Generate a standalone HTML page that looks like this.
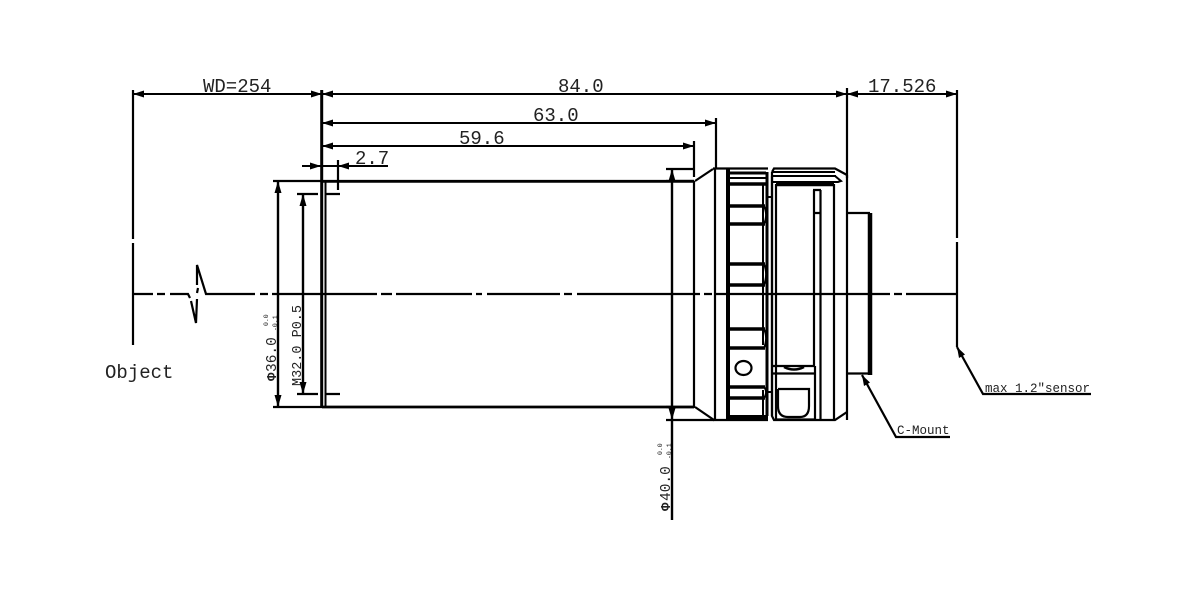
<!DOCTYPE html>
<html><head><meta charset="utf-8"><style>html,body{margin:0;padding:0;background:#fff}svg{display:block}text{font-family:"Liberation Mono","Noto Serif CJK SC",monospace;fill:#222}</style></head><body>
<svg width="1200" height="600" viewBox="0 0 1200 600" xmlns="http://www.w3.org/2000/svg">
<rect width="1200" height="600" fill="#fff"/>
<g stroke="#000" stroke-width="2.200" fill="none">
<!-- extension lines -->
<path d="M133 90V239M133 243V345M957 90V238M957 242V347"/>
<path d="M847 88V178"/>
<path d="M321.700 90V407" stroke-width="3"/>
<path d="M716 118V168M694 141V177M338 160V190"/>
<!-- dimensions -->
<path d="M133 94H957M322 123H716M322 146H694M302 166H388" stroke-width="2"/>
<path d="M273 181H322M297 194H318M326 194H340M297 394H318M326 394H340M273 407H322M666 169H694M666 181H694M666 407H694M666 420H714"/>
<path d="M278 181V407M303 194V394M672 169V520" stroke-width="2.400"/>
<!-- barrel -->
<path d="M322 181.300H694M322 407H694" stroke-width="2.800"/>
<path d="M325.500 181V407" stroke-width="2"/>
<path d="M694 181V408M715 168V420M695 181L713 169M695 407L714 420"/>
<path d="M713 168.500H768M713 420H768" stroke-width="2.200"/>
<!-- ring 1 -->
<path d="M728 168V420" stroke-width="4"/>
<path d="M767 172V416" stroke-width="3"/>
<path d="M763 185V345M763 390V416" stroke-width="2"/>
<path d="M728 173H766" stroke-width="3"/>
<path d="M728 178H766" stroke-width="2"/>
<path d="M728 184H766" stroke-width="3.500"/>
<path d="M728 206H765M728 224H765M728 264H765M728 285H765M728 329H765M728 348H765M728 387H765M728 398H765" stroke-width="3.500"/>
<path d="M728 417.500H768" stroke-width="5"/>
<path d="M764 206Q768 215 764 224M764 264Q768 274 764 285M764 329Q768 338 764 348M764 387Q768 392 764 398" stroke-width="1.800"/>
<ellipse cx="743.500" cy="368" rx="8" ry="7" stroke-width="2.200"/>
<!-- link between rings -->
<path d="M768 197H773M768 392H773" stroke-width="2"/>
<!-- ring 2 -->
<path d="M772 172L774 168.500H835L847 175M772 172V416L774 420H835L847 412" stroke-width="2.200"/>
<path d="M776 184V419M834 184V420M847 175V420M772 176V416" stroke-width="2.200"/>
<path d="M773 172H835M773 176H836M773 182H838L841 181L835 176" stroke-width="2"/>
<path d="M776 184.500H834" stroke-width="3.500"/>
<path d="M813 190H821M820.500 190V420M814 190V366M814 213H821" stroke-width="2.200"/>
<path d="M772 366H815M772 373.500H815M776 419.500H815M815 366V374M815 374V420" stroke-width="2.200"/>
<path d="M784 367Q794 372 804 367" stroke-width="2.500"/>
<path d="M778 389V406Q778 417 788 417H800Q809 417 809 406V389H778" stroke-width="2.200"/>
<!-- C-mount -->
<path d="M847 213H870M847 373.500H870" stroke-width="2.200"/>
<path d="M870 213V375" stroke-width="4.500"/>
<!-- centre line -->
<path d="M133 294H153M157 294H165M170 294H188L190 298M191 301L196 323L197 299M197 293L198 288M197 285V265L206 294H255M260 294H268M272 294H377M381 294H392M396 294H472M476 294H482M487 294H560M564 294H572M577 294H700M704 294H712M716 294H890M894 294H902M906 294H957"/>
<!-- leaders -->
<path d="M957 347L983 394H1091M862 375L896 437H950"/>
</g>
<g fill="#000" stroke="none">
<path d="M133 94l11-3.500v7zM322 94l-11-3.500v7zM322 94l11-3.500v7zM847 94l-11-3.500v7zM847 94l11-3.500v7zM957 94l-11-3.500v7z"/>
<path d="M322 123l11-3.500v7zM716 123l-11-3.500v7zM322 146l11-3.500v7zM694 146l-11-3.500v7z"/>
<path d="M321 166l-11-3.500v7zM338 166l11-3.500v7z"/>
<path d="M278 181l-3.500 12h7zM278 407l-3.500-12h7zM303 194l-3.500 12h7zM303 394l-3.500-12h7z"/>
<path d="M672 169l-3.500 12h7zM672 420l-3.500-12h7z"/>
<path d="M957 347l2 11 6-3.500zM862 375l2 11 6-3.500z"/>
</g>
<g font-size="19">
<text x="203" y="92">WD=254</text>
<text x="558" y="92">84.0</text>
<text x="533" y="121">63.0</text>
<text x="459" y="144">59.6</text>
<text x="355" y="164">2.7</text>
<text x="868" y="92">17.526</text>
<text x="105" y="378">Object</text>
</g>
<g font-size="12.500">
<text x="985" y="392">max 1.2"sensor</text>
<text x="897" y="434">C-Mount</text>
</g>
<text transform="translate(301 386) rotate(-90)" font-size="13.500">M32.0 P0.5</text>
<text transform="translate(276 372) rotate(-90)" font-size="14.500">36.0</text>
<text transform="translate(276 381) rotate(-90)" font-size="14" font-weight="bold">&#934;</text>
<text transform="translate(670 501) rotate(-90)" font-size="14.500">40.0</text>
<text transform="translate(670 511) rotate(-90)" font-size="14" font-weight="bold">&#934;</text>
<g font-size="6.500">
<text transform="translate(268 326) rotate(-90)">0.0</text>
<text transform="translate(277 331) rotate(-90)">-0.1</text>
<text transform="translate(662 455) rotate(-90)">0.0</text>
<text transform="translate(671 459) rotate(-90)">-0.1</text>
</g>
</svg>
</body></html>
